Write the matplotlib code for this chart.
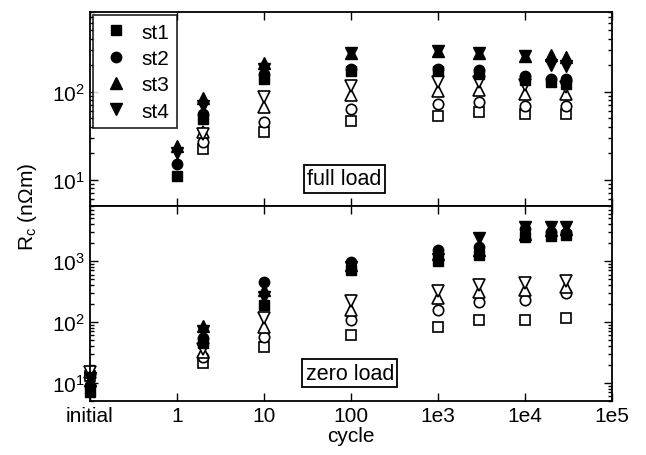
import matplotlib
matplotlib.use('Agg')
import matplotlib.pyplot as plt
import numpy as np
from matplotlib.ticker import NullLocator, LogLocator, FixedLocator

plt.rcParams['font.family'] = ['Liberation Sans', 'DejaVu Sans']
plt.rcParams['mathtext.fontset'] = 'custom'
plt.rcParams['mathtext.rm'] = 'Liberation Sans'
plt.rcParams['mathtext.it'] = 'Liberation Sans:italic'
plt.rcParams['mathtext.default'] = 'regular'

nan = np.nan

# x ticks
tick_pos = [0.1, 1, 10, 100, 1e3, 1e4, 1e5]
tick_lab = ['initial', '1', '10', '100', '1e3', '1e4', '1e5']

# full load panel
full_cyc = [1, 2, 10, 100, 1e3, 3e3, 1e4, 2e4, 3e4]
full_st1 = [11, 49, 141, 170, 170, 160, 134, 130, 123]
full_st2 = [15, 56, 160, 183, 183, 174, 152, 141, 141]
full_st3 = [24, 85, 210, 275, 288, 273, 252, 259, 245]
full_st4 = [20, 69, 183, 273, 288, 273, 252, 203, 194]
full_st1_o = [nan, 22, 35, 46, 53, 59, 56, nan, 56]
full_st2_o = [nan, 27, 45, 63, 73, 77, 69, nan, 69]
full_st3_o = [nan, 35, 67, 92, 102, 105, 95, nan, 93]
full_st4_o = [nan, 33, 87, 117, 130, 130, 120, nan, 114]

# zero load panel
zero_cyc = [0.1, 2, 10, 100, 1e3, 3e3, 1e4, 2e4, 3e4]
zero_st1 = [7, 45, 190, 700, 1000, 1250, 2500, 2600, 2700]
zero_st2 = [9, 55, 455, 950, 1500, 1700, 3300, 3000, 2900]
zero_st3 = [11, 85, 333, 850, 1300, 1500, 2800, 3200, 3300]
zero_st4 = [12, 70, 260, 800, 1100, 2400, 3600, 3600, 3600]
zero_st1_o = [13, 21, 39, 61, 83, 108, 108, nan, 117]
zero_st2_o = [14, 27, 57, 108, 157, 213, 230, nan, 300]
zero_st3_o = [15, 32, 83, 157, 245, 310, 330, nan, 370]
zero_st4_o = [15, 36, 117, 220, 320, 400, 435, nan, 470]

names = ['st1', 'st2', 'st3', 'st4']
marks = ['s', 'o', '^', 'v']
sizes = [6.5, 7.5, 8, 8]

fig = plt.figure(figsize=(6.46, 4.56), dpi=100)
ax1 = fig.add_axes([0.139, 0.546, 0.808, 0.425])
ax2 = fig.add_axes([0.139, 0.118, 0.808, 0.428])

full_f = [full_st1, full_st2, full_st3, full_st4]
full_o = [full_st1_o, full_st2_o, full_st3_o, full_st4_o]
zero_f = [zero_st1, zero_st2, zero_st3, zero_st4]
zero_o = [zero_st1_o, zero_st2_o, zero_st3_o, zero_st4_o]

for ax, cyc, filled, opened in [(ax1, full_cyc, full_f, full_o),
                                (ax2, zero_cyc, zero_f, zero_o)]:
    for i in range(4):
        ax.plot(cyc, opened[i], linestyle='none', marker=marks[i], ms=sizes[i],
                mfc='white', mec='k', mew=1.2, clip_on=False)
    for i in range(4):
        ax.plot(cyc, filled[i], linestyle='none', marker=marks[i], ms=sizes[i],
                mfc='k', mec='k', label=names[i], clip_on=False)
    ax.set_xscale('log')
    ax.set_yscale('log')
    ax.set_xlim(0.1, 1e5)
    ax.xaxis.set_major_locator(FixedLocator(tick_pos))
    ax.xaxis.set_minor_locator(NullLocator())
    ax.yaxis.set_minor_locator(LogLocator(base=10, subs=np.arange(2, 10)))
    ax.tick_params(which='both', direction='in', top=True, right=True,
                   labelsize=15, width=1)
    ax.tick_params(which='major', length=6)
    ax.tick_params(which='minor', length=3)
    for s in ax.spines.values():
        s.set_linewidth(1.3)

ax1.set_ylim(5, 800)
ax2.set_ylim(5, 8000)
ax1.set_xticklabels([])
ax2.set_xticklabels(tick_lab)
ax1.set_yticks([10, 100])
ax2.set_yticks([10, 100, 1000])

ax2.set_xlabel('cycle', fontsize=15, labelpad=1)
fig.text(0.042, 0.546, 'R$_c$ (nΩm)', rotation=90, fontsize=15,
         ha='center', va='center')

leg = ax1.legend(loc='upper left', fontsize=15, frameon=True, fancybox=False,
                 edgecolor='k', handletextpad=0.5, borderpad=0.35,
                 labelspacing=0.35, handlelength=1.5, borderaxespad=0.15)
leg.get_frame().set_linewidth(1.3)

box = dict(boxstyle='square,pad=0.15', fc='white', ec='k', lw=1.3)
ax1.text(0.488, 0.14, 'full load', transform=ax1.transAxes, fontsize=15.5,
         ha='center', va='center', bbox=box)
ax2.text(0.498, 0.144, 'zero load', transform=ax2.transAxes, fontsize=15.5,
         ha='center', va='center', bbox=box)

plt.savefig('out.png', dpi=100)
